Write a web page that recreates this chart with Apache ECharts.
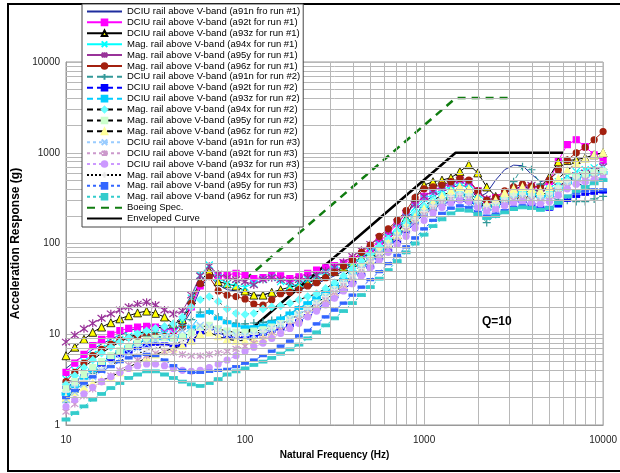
<!DOCTYPE html>
<html>
<head>
<meta charset="utf-8">
<script src="https://cdn.jsdelivr.net/npm/echarts@6/dist/echarts.min.js"></script>
<style>
  html, body { margin: 0; padding: 0; background: #fff; }
  #srsChart { width: 620px; height: 473px; }
</style>
</head>
<body>
<div id="srsChart"></div>
<script>
// natural frequency points (Hz), 1/20 decade
const freq = [10, 11.2, 12.6, 14.1, 15.8, 17.8, 20, 22.4, 25.1, 28.2,
  31.6, 35.5, 39.8, 44.7, 50.1, 56.2, 63.1, 70.8, 79.4, 89.1,
  100, 112, 126, 141, 158, 178, 200, 224, 251, 282,
  316, 355, 398, 447, 501, 562, 631, 708, 794, 891,
  1000, 1122, 1259, 1413, 1585, 1778, 1995, 2239, 2512, 2818,
  3162, 3548, 3981, 4467, 5012, 5623, 6310, 7079, 7943, 8913, 10000];

// run #1
const a91nRun1 = [4.2, 5.0, 5.8, 6.8, 7.8, 8.8, 9.8, 10.8, 11.8, 12.5,
  12.8, 12.0, 11.0, 12.5, 18, 32, 44, 35, 31, 30,
  28, 26, 27, 29, 30, 30, 31, 33, 36, 40,
  44, 50, 58, 68, 80, 96, 115, 145, 185, 235,
  290, 330, 370, 410, 440, 420, 320, 360, 500, 650,
  730, 720, 580, 480, 510, 620, 560, 470, 420, 380, 360];
const a92tRun1 = [3.8, 4.8, 6.0, 7.5, 8.8, 10.0, 11.0, 11.6, 12.0, 12.2,
  12.0, 11.5, 11.0, 13.0, 20, 34, 46, 44, 45, 47,
  45, 41, 42, 45, 44, 41, 43, 47, 51, 54,
  57, 61, 67, 76, 88, 105, 128, 165, 215, 275,
  330, 380, 420, 460, 500, 470, 380, 300, 320, 360,
  400, 420, 420, 410, 480, 820, 1230, 1390, 1170, 950, 820];
const a93zRun1 = [5.8, 7.2, 8.8, 10.5, 12.0, 13.4, 14.8, 16.0, 17.2, 18.0,
  17.0, 15.5, 13.0, 14.5, 24, 38, 50, 38, 36, 34,
  30, 27, 27, 29, 31, 33, 35, 37, 40, 44,
  49, 55, 62, 70, 80, 90, 100, 125, 190, 320,
  440, 480, 500, 530, 620, 740, 600, 420, 330, 330,
  345, 350, 360, 420, 545, 795, 820, 840, 880, 950, 1000];
const a94xRun1 = [3.2, 4.0, 5.0, 6.0, 7.0, 8.0, 8.8, 9.5, 10.0, 10.4,
  10.5, 10.2, 10.0, 13.5, 25, 45, 58, 42, 36, 35,
  33, 36, 40, 42, 38, 34, 36, 40, 44, 48,
  52, 56, 62, 70, 82, 98, 118, 150, 195, 250,
  310, 350, 390, 430, 470, 450, 350, 290, 300, 340,
  380, 400, 390, 370, 400, 480, 560, 620, 650, 680, 700];
const a95yRun1 = [8.2, 9.8, 11.5, 13.2, 15.0, 16.8, 18.5, 20.0, 21.5, 22.5,
  21.0, 18.5, 16.8, 18.0, 27, 44, 56, 46, 42, 40,
  38, 35, 40, 42, 40, 38, 40, 42, 45, 50,
  55, 62, 72, 84, 98, 115, 138, 170, 215, 270,
  330, 380, 420, 460, 500, 480, 380, 310, 290, 320,
  370, 410, 440, 410, 380, 420, 500, 560, 600, 640, 700];
const a96zRun1 = [3.0, 3.8, 4.8, 5.8, 6.8, 7.8, 8.6, 9.2, 9.5, 9.6,
  9.5, 9.4, 9.6, 12, 22, 36, 43, 30, 27, 26,
  24.5, 21.5, 21, 24, 28, 29, 31, 34, 37, 42,
  48, 56, 66, 80, 96, 120, 145, 180, 230, 320,
  400, 420, 440, 480, 520, 500, 380, 300, 320, 380,
  420, 450, 430, 420, 500, 650, 830, 1000, 1150, 1390, 1710];

// run #2
const a91nRun2 = [1.8, 2.3, 3.0, 3.7, 4.5, 5.4, 6.3, 7.3, 8.4, 9.5,
  10.5, 11.5, 12.0, 12.5, 14.5, 17.5, 18.0, 15.5, 14.0, 13.2,
  13.0, 13.3, 13.5, 14.2, 15.0, 17.0, 19.0, 22, 25, 29,
  33, 40, 48, 58, 70, 86, 105, 130, 165, 210,
  250, 280, 310, 330, 320, 290, 220, 170, 210, 330,
  480, 700, 650, 450, 330, 300, 300, 290, 290, 310, 330];
const a92tRun2 = [2.6, 3.0, 3.5, 4.0, 4.6, 5.2, 5.8, 6.4, 7.0, 7.5,
  7.8, 7.8, 7.5, 7.5, 8.5, 10.5, 12.0, 10.5, 9.5, 9.2,
  9.2, 9.5, 10.0, 10.8, 11.5, 12.5, 14, 16, 19, 22,
  26, 31, 37, 45, 55, 68, 84, 105, 135, 170,
  210, 240, 270, 290, 300, 290, 260, 250, 260, 280,
  300, 290, 270, 250, 240, 260, 300, 330, 350, 360, 370];
const a93zRun2 = [2.2, 2.7, 3.3, 4.0, 4.8, 5.6, 6.4, 7.2, 8.0, 8.6,
  9.0, 9.0, 8.8, 9.5, 12.0, 16.0, 17.5, 15.0, 13.5, 12.5,
  12.0, 12.0, 12.5, 13.5, 15.0, 17.0, 19.5, 22, 25, 29,
  34, 40, 48, 58, 70, 85, 105, 130, 160, 200,
  240, 270, 300, 330, 350, 340, 280, 240, 260, 300,
  340, 360, 350, 330, 340, 400, 470, 520, 560, 580, 600];
const a94xRun2 = [2.8, 3.5, 4.3, 5.2, 6.2, 7.2, 8.2, 9.2, 10.1, 10.9,
  11.6, 12.2, 13.0, 15.5, 20, 24, 26, 23, 19, 17,
  16.5, 17.0, 19.0, 20.0, 20.5, 22, 24, 26, 28, 32,
  37, 44, 53, 64, 77, 93, 112, 138, 170, 215,
  260, 300, 340, 370, 390, 370, 300, 250, 270, 320,
  360, 380, 370, 350, 360, 420, 500, 560, 600, 620, 650];
const a95yRun2 = [2.5, 3.0, 3.6, 4.3, 5.0, 5.8, 6.6, 7.3, 8.0, 8.6,
  9.0, 9.2, 9.2, 9.5, 10.5, 12.0, 12.5, 11.5, 10.8, 10.5,
  10.5, 10.8, 11.2, 12.0, 13.0, 14.5, 16.5, 19, 22, 26,
  31, 37, 45, 55, 67, 82, 100, 122, 150, 185,
  225, 260, 290, 320, 340, 330, 280, 250, 270, 300,
  330, 340, 330, 320, 340, 400, 470, 530, 570, 600, 620];
const a96zRun2 = [2.0, 2.3, 2.6, 2.9, 3.1, 3.4, 3.8, 4.3, 4.9, 5.5,
  6.0, 6.5, 7.0, 7.5, 8.5, 10.0, 10.5, 9.5, 8.8, 8.5,
  8.5, 8.8, 9.2, 10.0, 11.0, 12.5, 14.5, 17, 20, 24,
  29, 35, 43, 53, 66, 82, 100, 125, 155, 195,
  240, 280, 330, 380, 420, 400, 320, 270, 300, 360,
  400, 420, 400, 380, 420, 520, 640, 760, 860, 950, 1000];

// run #3
const a91nRun3 = [1.9, 2.3, 2.8, 3.4, 4.0, 4.7, 5.4, 6.2, 7.0, 7.8,
  8.6, 9.4, 10.2, 11.0, 12.0, 12.5, 12.0, 11.0, 10.2, 9.8,
  9.5, 9.8, 10.5, 11.5, 12.8, 14.5, 16.5, 19, 22, 26,
  31, 37, 44, 53, 64, 78, 95, 118, 145, 180,
  220, 255, 290, 320, 340, 320, 270, 240, 260, 290,
  310, 320, 310, 300, 320, 380, 440, 480, 500, 520, 540];
const a92tRun3 = [1.4, 1.7, 2.1, 2.5, 3.0, 3.5, 4.0, 4.6, 5.2, 5.8,
  6.2, 6.4, 6.3, 6.0, 5.8, 5.8, 6.0, 6.2, 6.5, 6.9,
  7.4, 8.0, 8.8, 9.8, 11.0, 12.5, 14.5, 17, 20, 24,
  29, 35, 42, 51, 62, 76, 93, 115, 140, 172,
  210, 245, 280, 310, 330, 310, 260, 230, 240, 270,
  300, 310, 300, 290, 300, 350, 420, 470, 500, 520, 540];
const a93zRun3 = [1.6, 1.9, 2.2, 2.6, 3.0, 3.4, 3.8, 4.2, 4.5, 4.7,
  4.7, 4.5, 4.2, 4.0, 3.9, 4.0, 4.3, 4.7, 5.2, 5.8,
  6.5, 7.2, 8.0, 9.0, 10.2, 11.6, 13.2, 15.5, 18, 21,
  25, 30, 36, 44, 54, 66, 80, 98, 120, 148,
  180, 215, 250, 280, 300, 290, 250, 230, 240, 260,
  280, 290, 280, 270, 290, 340, 400, 450, 480, 500, 520];
const a94xRun3 = [2.3, 2.7, 3.1, 3.6, 4.1, 4.6, 5.1, 5.6, 6.1, 6.6,
  7.0, 7.4, 7.8, 8.4, 9.5, 11.0, 11.5, 10.5, 9.8, 9.5,
  9.6, 10.0, 10.8, 11.8, 13.0, 14.5, 16.5, 19, 22, 26,
  31, 37, 44, 53, 64, 78, 96, 120, 150, 185,
  225, 260, 300, 330, 350, 340, 290, 260, 280, 310,
  340, 350, 340, 330, 350, 410, 480, 540, 580, 610, 640];
const a95yRun3 = [2.0, 2.4, 2.9, 3.4, 3.9, 4.4, 5.0, 5.5, 5.8, 6.0,
  5.8, 5.2, 4.5, 4.0, 3.8, 3.8, 3.9, 4.0, 4.1, 4.4,
  4.8, 5.2, 5.8, 6.5, 7.4, 8.4, 9.6, 11, 13, 15.5,
  18.5, 22, 27, 33, 40, 49, 60, 74, 92, 115,
  145, 180, 215, 245, 260, 250, 220, 200, 210, 230,
  250, 260, 250, 240, 250, 290, 330, 360, 380, 390, 390];
const a96zRun3 = [1.15, 1.35, 1.6, 1.9, 2.2, 2.55, 2.9, 3.3, 3.6, 3.9,
  3.9, 3.6, 3.3, 3.0, 2.8, 2.7, 2.9, 3.2, 3.6, 3.9,
  4.2, 4.6, 5.0, 5.5, 6.1, 6.8, 7.7, 9.0, 10.5, 12.5,
  15, 18, 22, 27, 33, 41, 51, 64, 80, 100,
  125, 155, 185, 215, 235, 230, 210, 190, 200, 220,
  240, 250, 245, 235, 245, 280, 330, 380, 420, 460, 500];

// specification lines
const boeingFreq = [100, 1500, 3000];
const boeingG = [40, 4000, 4000];
const envFreq = [100, 1500, 6000];
const envG = [10, 1000, 1000];

// minor grid positions
const minorX = [20, 30, 40, 50, 60, 70, 80, 90, 200, 300, 400, 500, 600, 700, 800, 900,
  2000, 3000, 4000, 5000, 6000, 7000, 8000, 9000];
const minorY = [2, 3, 4, 5, 6, 7, 8, 9, 20, 30, 40, 50, 60, 70, 80, 90,
  200, 300, 400, 500, 600, 700, 800, 900, 2000, 3000, 4000, 5000, 6000, 7000, 8000, 9000];

const X_MARK = 'path://M1,1L9,9M9,1L1,9';
const STAR_MARK = 'path://M1,1L9,9M9,1L1,9M5,0L5,10';
const PLUS_MARK = 'path://M5,0L5,10M0,5L10,5';

function pairs(xs, ys) {
  return xs.map((x, i) => [x, ys[i]]);
}

function srs(name, values, lineColor, lineType, symbol, size, markColor, border) {
  return {
    name: name,
    type: 'line',
    data: pairs(freq, values),
    symbol: symbol,
    symbolSize: size,
    lineStyle: { color: lineColor, width: 1, type: lineType },
    itemStyle: {
      color: markColor,
      borderColor: border || markColor,
      borderWidth: border ? 0.8 : 1.2
    }
  };
}

const series = [
  srs('DCIU rail above V-band (a91n fro run #1)', a91nRun1, '#1f2d9e', 'solid', 'none', 0, '#1f2d9e'),
  srs('DCIU rail above V-band (a92t for run #1)', a92tRun1, '#ff00ff', 'solid', 'rect', 6, '#ff00ff'),
  srs('DCIU rail above V-band (a93z for run #1)', a93zRun1, '#000000', 'solid', 'triangle', 8, '#ffff00', '#000000'),
  srs('Mag. rail above V-band (a94x for run #1)', a94xRun1, '#00ffff', 'solid', X_MARK, 7, '#00ffff'),
  srs('Mag. rail above V-band (a95y for run #1)', a95yRun1, '#993399', 'solid', STAR_MARK, 8, '#993399'),
  srs('Mag. rail above V-band (a96z for run #1)', a96zRun1, '#a3200f', 'solid', 'circle', 6, '#a3200f'),
  srs('DCIU rail above V-band (a91n for run #2)', a91nRun2, '#339999', [6, 4], PLUS_MARK, 8, '#339999'),
  srs('DCIU rail above V-band (a92t for run #2)', a92tRun2, '#0000ff', [6, 4], 'rect', [6, 2.5], '#0000ff'),
  srs('DCIU rail above V-band (a93z for run #2)', a93zRun2, '#00ccff', [6, 4], 'rect', [7, 3], '#00ccff'),
  srs('Mag. rail above V-band (a94x for run #2)', a94xRun2, '#000000', [6, 4], 'diamond', 7, '#66ffff'),
  srs('Mag. rail above V-band (a95y for run #2)', a95yRun2, '#000000', [6, 4], 'rect', 6, '#ccffcc'),
  srs('Mag. rail above V-band (a96z for run #2)', a96zRun2, '#000000', [6, 4], 'triangle', 7, '#ffff99'),
  srs('DCIU rail above V-band (a91n for run #3)', a91nRun3, '#99ccff', [3, 3], X_MARK, 7, '#99ccff'),
  srs('DCIU rail above V-band (a92t for run #3)', a92tRun3, '#cc99cc', [3, 3], STAR_MARK, 7, '#cc99cc'),
  srs('DCIU rail above V-band (a93z for run #3)', a93zRun3, '#cc99ff', [3, 3], 'circle', 6, '#cc99ff'),
  srs('Mag. rail above V-band (a94x for run #3)', a94xRun3, '#000000', [2, 2], PLUS_MARK, 7, '#e6e6e6'),
  srs('Mag. rail above V-band (a95y for run #3)', a95yRun3, '#3366ff', [3, 3], 'rect', [6, 2.5], '#3366ff'),
  srs('Mag. rail above V-band (a96z for run #3)', a96zRun3, '#33cccc', [3, 3], 'rect', [7, 3], '#33cccc'),
  {
    name: 'Boeing Spec.',
    type: 'line',
    data: pairs(boeingFreq, boeingG),
    symbol: 'none',
    lineStyle: { color: '#107c10', width: 2.5, type: [8, 6] },
    itemStyle: { color: '#107c10' }
  },
  {
    name: 'Enveloped Curve',
    type: 'line',
    data: pairs(envFreq, envG),
    symbol: 'none',
    lineStyle: { color: '#000000', width: 2.5 },
    itemStyle: { color: '#000000' }
  },
  {
    // grey minor grid (2..9 per decade)
    name: 'grid',
    type: 'line',
    data: [[10, 1]],
    symbol: 'none',
    silent: true,
    z: 0,
    lineStyle: { opacity: 0 },
    markLine: {
      silent: true,
      symbol: 'none',
      animation: false,
      label: { show: false },
      lineStyle: { color: '#b8b8b8', width: 1, type: 'solid' },
      data: minorX.map(v => ({ xAxis: v })).concat(minorY.map(v => ({ yAxis: v })))
    }
  }
];

// series without markers get a plain line in the legend
const noMark = ['DCIU rail above V-band (a91n fro run #1)', 'Boeing Spec.', 'Enveloped Curve'];
const legendItems = series.slice(0, 20).map(s =>
  noMark.includes(s.name) ? { name: s.name, itemStyle: { opacity: 0 } } : { name: s.name });

const chart = echarts.init(document.getElementById('srsChart'));
chart.setOption({
  animation: false,
  backgroundColor: '#fff',
  textStyle: { fontFamily: 'Liberation Sans, Arial, sans-serif' },
  grid: { left: 66, right: 13, top: 62, bottom: 48, show: true, borderColor: '#999', borderWidth: 1 },
  legend: {
    data: legendItems,
    orient: 'vertical',
    left: 82,
    top: 4,
    padding: [2, 3, 3, 4],
    itemGap: 0,
    itemWidth: 35,
    itemHeight: 7,
    selectedMode: false,
    zlevel: 1,
    z: 20,
    backgroundColor: '#fff',
    borderColor: '#444',
    borderWidth: 1,
    textStyle: { fontSize: 9.5, lineHeight: 10.9, color: '#000' }
  },
  xAxis: {
    type: 'log',
    logBase: 10,
    min: 10,
    max: 10000,
    name: 'Natural Frequency (Hz)',
    nameLocation: 'middle',
    nameGap: 24,
    nameTextStyle: { fontSize: 10, fontWeight: 'bold', color: '#000' },
    axisLine: { lineStyle: { color: '#999' } },
    axisTick: { show: false },
    axisLabel: { fontSize: 10, color: '#222', margin: 10, formatter: v => String(v) },
    splitLine: { show: true, lineStyle: { color: '#b8b8b8', width: 1 } }
  },
  yAxis: {
    type: 'log',
    logBase: 10,
    min: 1,
    max: 10000,
    name: 'Acceleration Response (g)',
    nameLocation: 'middle',
    nameGap: 35,
    nameTextStyle: { fontSize: 12, fontWeight: 'bold', color: '#000' },
    axisLine: { lineStyle: { color: '#999' } },
    axisTick: { show: false },
    axisLabel: { fontSize: 10, color: '#222', margin: 6, formatter: v => String(v) },
    splitLine: { show: true, lineStyle: { color: '#b8b8b8', width: 1 } }
  },
  graphic: [
    {
      type: 'rect',
      silent: true,
      shape: { x: 8, y: 4, width: 640, height: 467 },
      style: { fill: 'none', stroke: '#000', lineWidth: 2 },
      z: -1
    },
    {
      type: 'text',
      left: 482,
      top: 316,
      silent: true,
      zlevel: 1,
      style: { text: 'Q=10', fontSize: 12, fontWeight: 'bold', fill: '#000', fontFamily: 'Liberation Sans, Arial, sans-serif' }
    }
  ],
  series: series
});
window.onresize = () => {
  chart.resize();
};
</script>
</body>
</html>
